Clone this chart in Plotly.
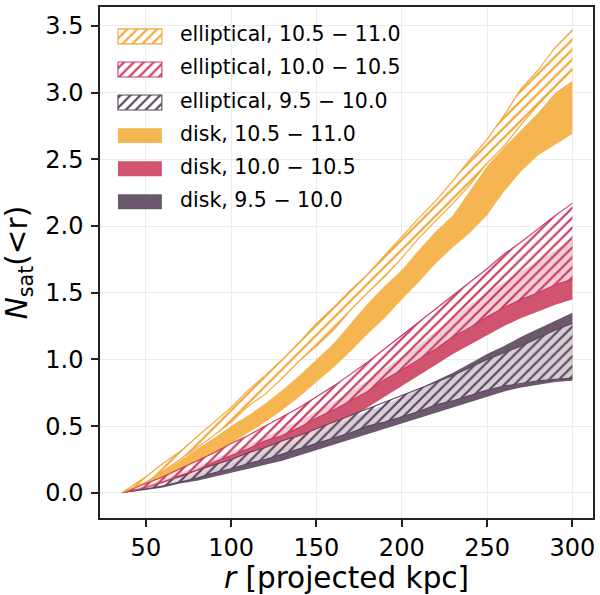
import plotly.graph_objects as go

# projected radius grid [kpc]
r_kpc = [36, 50, 60, 70, 80, 90, 100, 110, 120, 130, 140, 150, 160, 170,
         180, 190, 200, 210, 220, 230, 240, 250, 260, 270, 280, 290, 300]

# cumulative satellite counts, lower / upper envelope of each sample
ell_hi_lo = [0, 0.08, 0.16, 0.25, 0.34, 0.43, 0.53, 0.65, 0.74, 0.86, 0.99, 1.10, 1.22, 1.37,
             1.50, 1.62, 1.76, 1.91, 2.04, 2.17, 2.31, 2.47, 2.60, 2.76, 2.91, 3.04, 3.17]
ell_hi_up = [0, 0.12, 0.22, 0.31, 0.42, 0.53, 0.64, 0.77, 0.88, 1.00, 1.13, 1.27, 1.39, 1.52,
             1.64, 1.78, 1.92, 2.06, 2.19, 2.34, 2.50, 2.65, 2.83, 3.03, 3.17, 3.34, 3.47]
ell_mid_lo = [0, 0.04, 0.08, 0.13, 0.17, 0.23, 0.28, 0.33, 0.39, 0.43, 0.49, 0.56, 0.62, 0.69,
              0.76, 0.85, 0.92, 1.00, 1.08, 1.17, 1.24, 1.32, 1.39, 1.45, 1.50, 1.56, 1.60]
ell_mid_up = [0, 0.07, 0.12, 0.18, 0.24, 0.30, 0.37, 0.43, 0.50, 0.57, 0.64, 0.72, 0.80, 0.89,
              0.98, 1.08, 1.18, 1.28, 1.38, 1.48, 1.58, 1.68, 1.79, 1.88, 1.98, 2.08, 2.17]
ell_lo_lo = [0, 0.03, 0.05, 0.08, 0.11, 0.15, 0.18, 0.22, 0.25, 0.29, 0.33, 0.37, 0.41, 0.45,
             0.50, 0.53, 0.57, 0.61, 0.66, 0.69, 0.73, 0.77, 0.80, 0.82, 0.84, 0.85, 0.86]
ell_lo_up = [0, 0.05, 0.08, 0.12, 0.17, 0.21, 0.25, 0.30, 0.34, 0.39, 0.43, 0.48, 0.53, 0.58,
             0.63, 0.68, 0.73, 0.78, 0.83, 0.88, 0.94, 1.00, 1.05, 1.10, 1.16, 1.22, 1.27]

disk_hi_lo = [0, 0.05, 0.10, 0.16, 0.23, 0.30, 0.37, 0.45, 0.53, 0.62, 0.72, 0.83, 0.94, 1.06,
              1.19, 1.31, 1.45, 1.58, 1.72, 1.84, 1.95, 2.08, 2.26, 2.41, 2.53, 2.61, 2.69]
disk_hi_up = [0, 0.08, 0.16, 0.24, 0.33, 0.41, 0.50, 0.58, 0.67, 0.77, 0.88, 1.00, 1.12, 1.27,
              1.42, 1.55, 1.67, 1.82, 1.96, 2.08, 2.27, 2.45, 2.59, 2.72, 2.85, 3.00, 3.09]
disk_mid_lo = [0, 0.03, 0.07, 0.10, 0.14, 0.18, 0.22, 0.26, 0.30, 0.34, 0.38, 0.43, 0.49, 0.56,
               0.64, 0.72, 0.80, 0.88, 0.96, 1.04, 1.11, 1.18, 1.25, 1.31, 1.36, 1.41, 1.45]
disk_mid_up = [0, 0.05, 0.10, 0.15, 0.20, 0.25, 0.31, 0.36, 0.42, 0.48, 0.54, 0.61, 0.68, 0.76,
               0.84, 0.93, 1.02, 1.11, 1.21, 1.31, 1.41, 1.50, 1.58, 1.66, 1.74, 1.82, 1.90]
disk_lo_lo = [0, 0.02, 0.04, 0.07, 0.09, 0.12, 0.15, 0.18, 0.21, 0.24, 0.28, 0.32, 0.36, 0.40,
              0.44, 0.48, 0.52, 0.56, 0.60, 0.64, 0.68, 0.72, 0.76, 0.79, 0.81, 0.83, 0.84]
disk_lo_up = [0, 0.03, 0.06, 0.10, 0.15, 0.19, 0.23, 0.27, 0.31, 0.36, 0.41, 0.46, 0.51, 0.56,
              0.61, 0.66, 0.72, 0.78, 0.84, 0.90, 0.97, 1.04, 1.10, 1.17, 1.23, 1.29, 1.35]

labels = ["elliptical, 10.5 \u2212 11.0", "elliptical, 10.0 \u2212 10.5", "elliptical, 9.5 \u2212 10.0",
          "disk, 10.5 \u2212 11.0", "disk, 10.0 \u2212 10.5", "disk, 9.5 \u2212 10.0"]
x_ticks = [50, 100, 150, 200, 250, 300]
y_ticks = [0.0, 0.5, 1.0, 1.5, 2.0, 2.5, 3.0, 3.5]

FONT = "DejaVu Sans"
ORANGE_FILL, PINK_FILL, PURPLE_FILL = "#F5B652", "#D0536F", "#6C586C"
ORANGE_LINE, PINK_LINE, PURPLE_LINE = "#F2A535", "#C93A62", "#5C4660"
HATCH_BG = "rgba(255,255,255,0.72)"
CLEAR = "rgba(255,255,255,0)"
HATCH = dict(shape="/", size=7, solidity=0.32)

fig = go.Figure()


def hatched_area(xs, ys, col, face, **axes):
    # face colour, then the hatching with a clear background, both closed polygons
    fig.add_trace(go.Scatter(x=xs, y=ys, mode="lines", fill="toself", fillcolor=face,
                             line=dict(width=0, color=col),
                             showlegend=False, hoverinfo="skip", **axes))
    fig.add_trace(go.Scatter(x=xs, y=ys, mode="lines", fill="toself", fillcolor=CLEAR,
                             fillpattern=dict(fgcolor=col, bgcolor=CLEAR, fgopacity=1, **HATCH),
                             line=dict(width=0, color=col),
                             showlegend=False, hoverinfo="skip", **axes))


def add_disk(lo, hi, fill):
    fig.add_trace(go.Scatter(x=r_kpc + r_kpc[::-1], y=hi + lo[::-1], mode="lines",
                             fill="toself", fillcolor=fill, line=dict(width=0, color=fill),
                             showlegend=False, hoverinfo="skip"))


def add_elliptical(lo, hi, col):
    hatched_area(r_kpc + r_kpc[::-1], hi + lo[::-1], col, HATCH_BG)
    for edge in (lo, hi):
        fig.add_trace(go.Scatter(x=r_kpc, y=edge, mode="lines", line=dict(color=col, width=1.1),
                                 showlegend=False, hoverinfo="skip"))


# disk samples (solid), then elliptical samples (hatched) on top
add_disk(disk_lo_lo, disk_lo_up, PURPLE_FILL)
add_disk(disk_mid_lo, disk_mid_up, PINK_FILL)
add_disk(disk_hi_lo, disk_hi_up, ORANGE_FILL)
add_elliptical(ell_lo_lo, ell_lo_up, PURPLE_LINE)
add_elliptical(ell_mid_lo, ell_mid_up, PINK_LINE)
add_elliptical(ell_hi_lo, ell_hi_up, ORANGE_LINE)

# legend drawn on an overlay axis measured in pixels from the plot's top-left corner
PLOT_W, PLOT_H = 494, 513
swatch_x0, swatch_x1, row0, row_step, sw_h = 18, 62, 29.5, 33.2, 15
styles = [("hatch", ORANGE_LINE), ("hatch", PINK_LINE), ("hatch", PURPLE_LINE),
          ("solid", ORANGE_FILL), ("solid", PINK_FILL), ("solid", PURPLE_FILL)]
for i, (kind, col) in enumerate(styles):
    yc = row0 + i * row_step
    xs = [swatch_x0, swatch_x1, swatch_x1, swatch_x0, swatch_x0]
    ys = [yc - sw_h / 2, yc - sw_h / 2, yc + sw_h / 2, yc + sw_h / 2, yc - sw_h / 2]
    if kind == "hatch":
        hatched_area(xs, ys, col, "white", xaxis="x2", yaxis="y2")
        fig.add_trace(go.Scatter(x=xs, y=ys, xaxis="x2", yaxis="y2", mode="lines",
                                 line=dict(color=col, width=1.1),
                                 showlegend=False, hoverinfo="skip"))
    else:
        fig.add_trace(go.Scatter(x=xs, y=ys, xaxis="x2", yaxis="y2", mode="lines",
                                 fill="toself", fillcolor=col, line=dict(width=0, color=col),
                                 showlegend=False, hoverinfo="skip"))
    fig.add_annotation(x=78, y=yc - 2, xref="x2", yref="y2", text=labels[i], showarrow=False,
                       xanchor="left", yanchor="middle",
                       font=dict(family=FONT, size=20.5, color="black"))

axis_common = dict(showgrid=True, gridcolor="#ebebeb", gridwidth=1, zeroline=False,
                   showline=True, mirror=True, linecolor="#222222", linewidth=1.5,
                   ticks="outside", ticklen=7, tickwidth=1.5, tickcolor="#222222",
                   tickfont=dict(family=FONT, size=24, color="black"))

fig.update_layout(
    width=600, height=595,
    margin=dict(l=100, r=6, t=5, b=77),
    paper_bgcolor="white", plot_bgcolor="white",
    showlegend=False,
    xaxis=dict(range=[23.1, 312.1], tickvals=x_ticks, **axis_common,
               title=dict(text="<i>r</i> [projected kpc]", standoff=4,
                          font=dict(family=FONT, size=29.5, color="black"))),
    yaxis=dict(range=[-0.189, 3.642], tickvals=y_ticks, tickformat=".1f",
               ticklabelstandoff=3, **axis_common,
               title=dict(text="<i>N</i><sub>sat</sub>(&lt;r)", standoff=12,
                          font=dict(family=FONT, size=29.5, color="black"))),
    xaxis2=dict(range=[0, PLOT_W], overlaying="x", visible=False, fixedrange=True),
    yaxis2=dict(range=[PLOT_H, 0], overlaying="y", visible=False, fixedrange=True),
)

fig.write_html("out.html")
